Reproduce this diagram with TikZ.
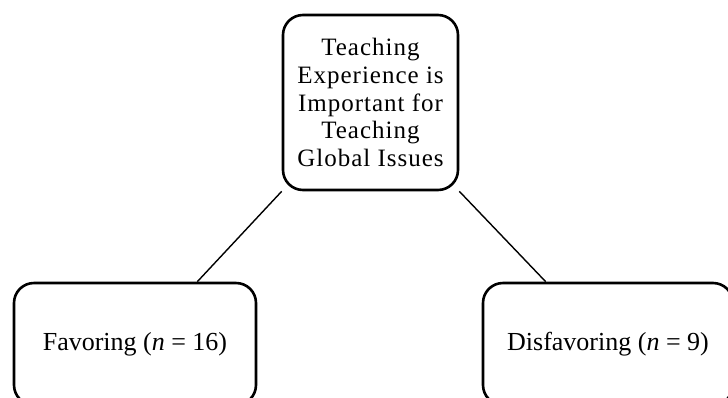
\documentclass[tikz,border=0pt]{standalone}
\usepackage{fontspec}
\setmainfont{Liberation Serif}
\begin{document}
\begin{tikzpicture}[x=1pt,y=-1pt,
  box/.style={draw=black, line width=2.6pt, rounded corners=20pt, inner sep=0pt,
    align=center, font=\fontsize{26}{27.6}\selectfont},
  link/.style={draw=black, line width=1.4pt}]
  \clip (0,0) rectangle (728,397);
  \fill[white] (0,0) rectangle (728,397);
  % question at the top
  \node[box, minimum width=175pt, minimum height=175pt,
    font=\fontsize{25}{27.6}\selectfont\addfontfeature{LetterSpace=4}] (top) at (370.5,102.5)
    {Teaching\\Experience is\\Important for\\Teaching\\Global Issues};
  % the two answer groups, running past the lower edge
  \node[box, minimum width=242pt, minimum height=122pt] (fav) at (135,344)
    {Favoring (\textit{n} = 16)};
  \node[box, minimum width=250pt, minimum height=122pt] (dis) at (608,344)
    {Disfavoring (\textit{n} = 9)};
  \draw[link] (top.-135) -- (fav.45);
  \draw[link] (top.-45) -- (dis.135);
\end{tikzpicture}
\end{document}
